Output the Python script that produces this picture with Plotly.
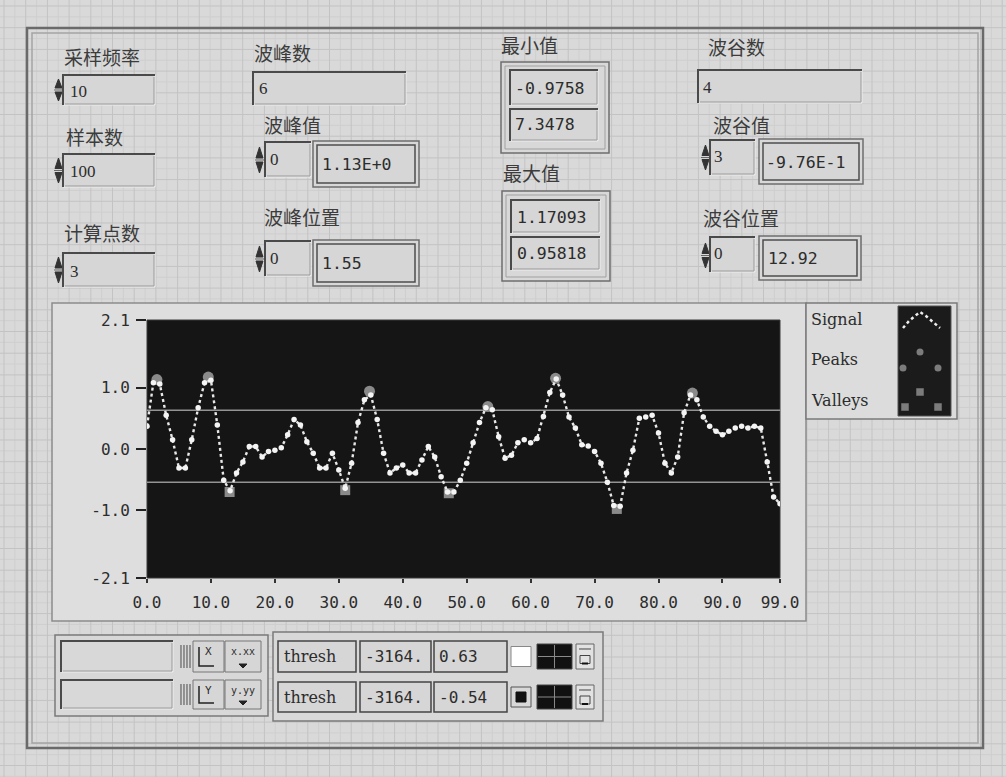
import plotly.graph_objects as go

W, H = 1006, 777

# ---------------- data ----------------
sample_rate = 10
n_samples = 100
n_calc_points = 3

signal = [
    0.37, 1.08, 1.06, 0.55, 0.15, -0.31, -0.31, 0.15, 0.67, 1.08,
    1.12, 0.39, -0.51, -0.68, -0.39, -0.21, 0.04, 0.04, -0.13, -0.04,
    -0.02, 0.02, 0.23, 0.48, 0.39, 0.12, -0.07, -0.31, -0.31, -0.07,
    -0.34, -0.64, -0.23, 0.43, 0.80, 0.88, 0.48, -0.07, -0.39, -0.31,
    -0.26, -0.39, -0.39, -0.18, 0.04, -0.13, -0.45, -0.70, -0.70, -0.51,
    -0.23, 0.10, 0.43, 0.67, 0.64, 0.20, -0.15, -0.10, 0.10, 0.15,
    0.10, 0.17, 0.53, 0.92, 1.14, 0.88, 0.52, 0.34, 0.07, 0.05,
    -0.04, -0.23, -0.54, -0.92, -0.93, -0.39, -0.02, 0.50, 0.52, 0.55,
    0.26, -0.23, -0.39, -0.13, 0.59, 0.88, 0.80, 0.52, 0.37, 0.29,
    0.23, 0.29, 0.34, 0.37, 0.34, 0.37, 0.34, -0.21, -0.78, -0.89,
]
sample_index = list(range(len(signal)))

peak_pos = [1.55, 9.5818, 34.8, 53.3, 63.9, 85.3]
peak_val = [1.13, 1.17093, 0.94, 0.69, 1.15, 0.91]
valley_pos = [12.92, 31.0, 47.2, 73.478]
valley_val = [-0.70, -0.67, -0.72, -0.9758]

thresholds = [0.63, -0.54]
cursor_x = ["-3164.", "-3164."]
cursor_names = ["thresh", "thresh"]

x_tickvals = [0, 10, 20, 30, 40, 50, 60, 70, 80, 90, 99]
x_ticktext = ["0.0", "10.0", "20.0", "30.0", "40.0", "50.0", "60.0",
              "70.0", "80.0", "90.0", "99.0"]
y_tickvals = [-2.1, -1.0, 0.0, 1.0, 2.1]
y_ticktext = ["-2.1", "-1.0", "0.0", "1.0", "2.1"]

peak_count = len(peak_pos)
valley_count = len(valley_pos)
min_value, min_time = -0.9758, 7.3478
max_value, max_time = 1.17093, 0.95818
peak_index_sel, valley_index_sel = 0, 3
peak_loc_sel, valley_loc_sel = 0, 0

# ---------------- helpers (pixel -> paper) ----------------
shapes = []
annotations = []

CJK = "Noto Sans CJK SC"
MONO = "DejaVu Sans Mono"
SERIF = "DejaVu Serif"
NUMSERIF = "Liberation Serif"
INK = "#2c2c2c"
LABEL = "#3c3c3c"


def X(v):
    return v / W


def Y(v):
    return 1 - v / H


def rect(x0, y0, x1, y1, fill="rgba(0,0,0,0)", line="#555", width=1.0, layer="below"):
    shapes.append(dict(type="rect", xref="paper", yref="paper",
                       x0=X(x0), x1=X(x1), y0=Y(y1), y1=Y(y0),
                       fillcolor=fill, line=dict(color=line, width=width), layer=layer))


def poly(points, line="#333", width=1.0, fill=None, closed=False, dash="solid", layer="below"):
    d = "M " + " L ".join(f"{X(px):.5f},{Y(py):.5f}" for px, py in points)
    if closed:
        d += " Z"
    s = dict(type="path", xref="paper", yref="paper", path=d,
             line=dict(color=line, width=width, dash=dash), layer=layer)
    if fill:
        s["fillcolor"] = fill
    shapes.append(s)


def circle(cx, cy, r, fill, layer="below"):
    shapes.append(dict(type="circle", xref="paper", yref="paper",
                       x0=X(cx - r), x1=X(cx + r), y0=Y(cy + r), y1=Y(cy - r),
                       fillcolor=fill, line=dict(width=0), layer=layer))


def text(x, y, s, size, family, color=INK, anchor="left"):
    annotations.append(dict(xref="paper", yref="paper", x=X(x), y=Y(y), text=s,
                            showarrow=False, xanchor=anchor, yanchor="middle",
                            font=dict(size=size, family=family, color=color)))


def sunken(x0, y0, x1, y1, fill="#d6d6d6"):
    rect(x0, y0, x1, y1, fill=fill, line="#eeeeee", width=1)
    poly([(x0, y1), (x0, y0), (x1, y0)], line="#4a4a4a", width=2)
    poly([(x0 + 2, y1 - 1), (x1 - 1, y1 - 1), (x1 - 1, y0 + 2)], line="#9c9c9c", width=1)


def double_box(x0, y0, x1, y1):
    rect(x0, y0, x1, y1, fill="#d8d8d8", line="#6e6e6e", width=1.5)
    rect(x0 + 4, y0 + 4, x1 - 4, y1 - 4, fill="#d6d6d6", line="#4d4d4d", width=1.5)


def spinner(x, y0, y1):
    mid = (y0 + y1) / 2
    poly([(x, mid - 2), (x + 7, mid - 2), (x + 3.5, y0 + 3)], fill="#333", line="#333", width=1, closed=True)
    poly([(x, mid + 2), (x + 7, mid + 2), (x + 3.5, y1 - 3)], fill="#333", line="#333", width=1, closed=True)
    poly([(x - 1, mid), (x + 8, mid)], line="#666", width=1)


# ---------------- panel background grid ----------------
minor, major = [], []
k = 0
v = 4.0
while v < W:
    (major if k % 2 == 0 else minor).append(f"M {X(v):.5f},0 L {X(v):.5f},1")
    v += 10.85
    k += 1
k = 0
v = 6.0
while v < H:
    (major if k % 2 == 0 else minor).append(f"M 0,{Y(v):.5f} L 1,{Y(v):.5f}")
    v += 10.85
    k += 1
shapes.append(dict(type="path", xref="paper", yref="paper", path=" ".join(minor),
                   line=dict(color="#cfcfcf", width=1), layer="below"))
shapes.append(dict(type="path", xref="paper", yref="paper", path=" ".join(major),
                   line=dict(color="#c3c3c3", width=1), layer="below"))

# ---------------- main frame ----------------
rect(27, 28, 983, 748, line="#6a6a6a", width=2.5)
rect(32, 33, 978, 743, line="#a4a4a4", width=1.5)

# ---------------- column 1: inputs ----------------
text(62, 56, "采样频率", 19, CJK, LABEL)
spinner(55, 76, 104)
sunken(63, 75, 155, 105)
text(68, 91, str(sample_rate), 17, NUMSERIF)

text(64, 137, "样本数", 19, CJK, LABEL)
spinner(55, 155, 186)
sunken(63, 154, 155, 187)
text(68, 171, str(n_samples), 17, NUMSERIF)

text(62, 233, "计算点数", 19, CJK, LABEL)
spinner(55, 254, 286)
sunken(63, 253, 155, 287)
text(68, 271, str(n_calc_points), 17, NUMSERIF)

# ---------------- column 2: peaks ----------------
text(252, 53, "波峰数", 19, CJK, LABEL)
sunken(253, 72, 406, 105)
text(257, 89, str(peak_count), 17, NUMSERIF)

text(262, 125, "波峰值", 19, CJK, LABEL)
spinner(256, 144, 176)
sunken(265, 142, 311, 177)
text(268, 159, str(peak_index_sel), 17, NUMSERIF)
double_box(313, 141, 419, 187)
text(320, 164, f"{peak_val[peak_index_sel]:.2f}E+0", 16.5, MONO)

text(262, 216, "波峰位置", 19, CJK, LABEL)
spinner(256, 243, 275)
sunken(265, 241, 311, 276)
text(268, 258, str(peak_loc_sel), 17, NUMSERIF)
double_box(313, 240, 419, 286)
text(320, 263, f"{peak_pos[peak_loc_sel]:.2f}", 16.5, MONO)

# ---------------- column 3: min / max ----------------
text(499, 45, "最小值", 19, CJK, LABEL)
rect(501, 62, 609, 153, fill="#d8d8d8", line="#6e6e6e", width=1.5)
rect(505, 66, 605, 149, line="#a0a0a0", width=1)
sunken(510, 70, 598, 105)
text(513, 88, f"{min_value:.4f}", 16.5, MONO)
sunken(510, 109, 598, 141)
text(513, 125, f"{min_time:.4f}", 16.5, MONO)

text(501, 173, "最大值", 19, CJK, LABEL)
rect(502, 191, 610, 281, fill="#d8d8d8", line="#6e6e6e", width=1.5)
rect(506, 195, 606, 277, line="#a0a0a0", width=1)
sunken(511, 200, 600, 233)
text(515, 217, f"{max_value:.5f}", 16.5, MONO)
sunken(511, 237, 600, 270)
text(515, 254, f"{max_time:.5f}", 16.5, MONO)

# ---------------- column 4: valleys ----------------
text(706, 47, "波谷数", 19, CJK, LABEL)
sunken(698, 70, 862, 103)
text(701, 87, str(valley_count), 17, NUMSERIF)

text(711, 124, "波谷值", 19, CJK, LABEL)
spinner(702, 142, 173)
sunken(710, 140, 755, 175)
text(712, 157, str(valley_index_sel), 17, NUMSERIF)
double_box(759, 139, 863, 184)
text(764, 162, "-9.76E-1", 16.5, MONO)

text(701, 218, "波谷位置", 19, CJK, LABEL)
spinner(702, 240, 271)
sunken(710, 237, 755, 272)
text(712, 254, str(valley_loc_sel), 17, NUMSERIF)
double_box(759, 236, 861, 280)
text(766, 259, f"{valley_pos[valley_loc_sel]:.2f}", 16.5, MONO)

# ---------------- graph panel ----------------
rect(52, 303, 806, 621, fill="#dedede", line="#8c8c8c", width=1.5)
# dark plotting area, drawn in the axes' own domain
shapes.append(dict(type="rect", xref="x domain", yref="y domain", x0=0, x1=1, y0=0, y1=1,
                   fillcolor="#151515", line=dict(color="#3a3a3a", width=1), layer="below"))

# plot legend
rect(806, 303, 957, 419, fill="#dcdcdc", line="#7a7a7a", width=1.5)
rect(898, 306, 951, 416, fill="#1b1b1b", line="#555", width=1)
text(809, 320, "Signal", 16, SERIF)
text(809, 360, "Peaks", 16, SERIF)
text(809, 400, "Valleys", 16, SERIF)
poly([(903, 328), (909, 321), (915, 316), (920, 312), (926, 316), (933, 322), (940, 328)],
     line="#eeeeee", width=2.5, dash="dot")
for cx, cy in [(920, 352), (903, 368), (938, 368)]:
    circle(cx, cy, 3.5, "#7c7c7c")
for cx, cy in [(920, 392), (905, 407), (938, 407)]:
    rect(cx - 3.5, cy - 3.5, cx + 3.5, cy + 3.5, fill="#7c7c7c", line="#7c7c7c", width=0.5)

# ---------------- scale palette ----------------
rect(55, 635, 268, 716, fill="#d8d8d8", line="#7a7a7a", width=1.5)
for (r0, r1, axis_letter, fmt) in [(641, 672, "X", "x.xx"), (680, 709, "Y", "y.yy")]:
    sunken(61, r0, 173, r1, fill="#d8d8d8")
    for gx in (181, 184, 187, 190):
        poly([(gx, r0 + 4), (gx, r1 - 4)], line="#4a4a4a", width=1)
    rect(193, r0, 224, r1, fill="#d6d6d6", line="#777", width=1)
    poly([(199, r0 + 6), (199, r1 - 6), (214, r1 - 6)], line="#222", width=1.5)
    text(203, r0 + 10, axis_letter, 11, MONO)
    rect(225, r0, 261, r1, fill="#d6d6d6", line="#777", width=1)
    text(243, r0 + 10, fmt, 10, MONO, anchor="center")
    poly([(239, r1 - 8), (247, r1 - 8), (243, r1 - 4)], fill="#222", line="#222", width=1, closed=True)

# ---------------- cursor legend ----------------
rect(273, 632, 603, 721, fill="#d8d8d8", line="#7a7a7a", width=1.5)
rows = [(641, 672), (682, 712)]
for i, (r0, r1) in enumerate(rows):
    rm = (r0 + r1) / 2
    rect(278, r0, 356, r1, fill="#d6d6d6", line="#444", width=1.5)
    text(282, rm, cursor_names[i], 16, SERIF)
    rect(360, r0, 431, r1, fill="#d6d6d6", line="#444", width=1.5)
    text(363, rm, cursor_x[i], 16, MONO)
    rect(434, r0, 507, r1, fill="#d6d6d6", line="#444", width=1.5)
    text(437, rm, f"{thresholds[i]:.2f}", 16, MONO)
    if i == 0:
        rect(511, rm - 10, 531, rm + 10, fill="#ffffff", line="#888", width=1)
    else:
        rect(511, rm - 10, 531, rm + 10, fill="#d8d8d8", line="#555", width=1)
        rect(516, rm - 5, 526, rm + 5, fill="#111111", line="#111", width=1)
    rect(537, r0 + 3, 572, r1 - 3, fill="#111111", line="#444", width=1)
    poly([(554.5, r0 + 4), (554.5, r1 - 4)], line="#8a8a8a", width=1)
    poly([(538, rm), (571, rm)], line="#8a8a8a", width=1)
    rect(576, r0 + 3, 594, r1 - 3, fill="#e2e2e2", line="#666", width=1)
    poly([(579, r0 + 8), (591, r0 + 8)], line="#444", width=1)
    rect(580, rm - 1, 590, rm + 7, fill="#e2e2e2", line="#444", width=1)
    poly([(582, rm + 7), (588, rm + 7)], line="#111", width=2)

# ---------------- traces ----------------
traces = []
for t in thresholds:
    traces.append(go.Scatter(x=[sample_index[0], sample_index[-1]], y=[t, t], mode="lines",
                             line=dict(color="#949494", width=1.5), hoverinfo="skip"))
traces.append(go.Scatter(x=peak_pos, y=peak_val, mode="markers", name="Peaks",
                         marker=dict(symbol="circle", size=11, color="#8a8a8a")))
traces.append(go.Scatter(x=valley_pos, y=valley_val, mode="markers", name="Valleys",
                         marker=dict(symbol="square", size=10, color="#8a8a8a")))
traces.append(go.Scatter(x=sample_index, y=signal, mode="lines+markers", name="Signal",
                         line=dict(color="#e8e8e8", width=2.4, dash="dot"),
                         marker=dict(size=5.5, color="#f4f4f4")))

fig = go.Figure(traces)
fig.update_layout(
    template="none",
    width=W, height=H, autosize=False,
    margin=dict(l=0, r=0, t=0, b=0, pad=0, autoexpand=False),
    paper_bgcolor="#d9d9d9",
    plot_bgcolor="rgba(0,0,0,0)",
    showlegend=False,
    shapes=shapes,
    annotations=annotations,
    xaxis=dict(domain=[X(147), X(780)], range=[0, 99], automargin=False,
               tickvals=x_tickvals, ticktext=x_ticktext,
               showgrid=False, zeroline=False, showline=False,
               ticks="outside", ticklen=4, tickwidth=2, tickcolor="#333",
               ticklabelstandoff=6,
               tickfont=dict(family=MONO, size=16, color=INK)),
    yaxis=dict(domain=[Y(578), Y(320)], range=[-2.1, 2.1], automargin=False,
               tickvals=y_tickvals, ticktext=y_ticktext,
               showgrid=False, zeroline=False, showline=False,
               ticks="outside", ticklen=10, tickwidth=2, tickcolor="#222",
               ticklabelstandoff=3,
               tickfont=dict(family=MONO, size=16, color=INK)),
)

fig.write_html("out.html")
